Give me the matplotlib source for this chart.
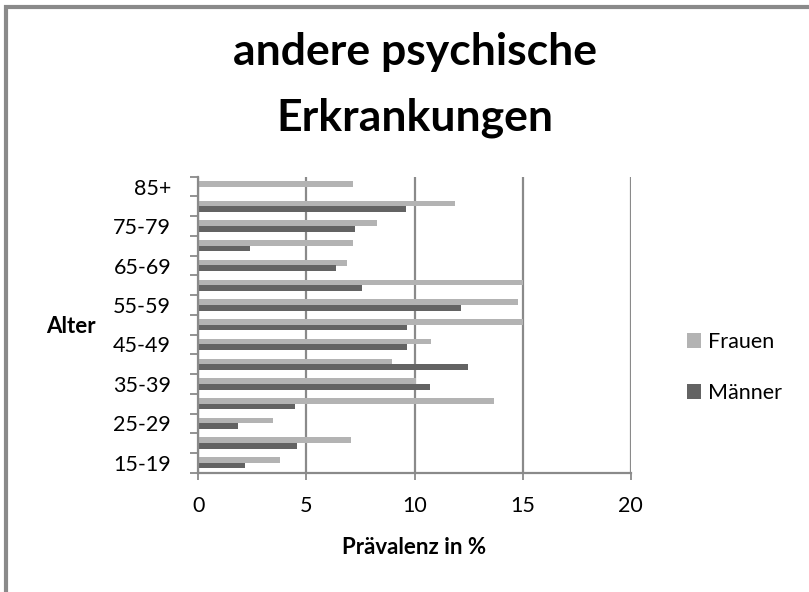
import numpy as np
import matplotlib.pyplot as plt
from matplotlib.patches import Rectangle

age_groups = ['15-19', '20-24', '25-29', '30-34', '35-39', '40-44', '45-49', '50-54',
              '55-59', '60-64', '65-69', '70-74', '75-79', '80-84', '85+']
frauen = [3.79, 7.05, 3.47, 13.68, 10.05, 8.95, 10.76, 15.0, 14.77, 15.0, 6.86, 7.17, 8.28, 11.87, 7.14]
maenner = [2.16, 4.55, 1.82, 4.47, 10.72, 12.49, 9.64, 9.64, 12.15, 7.56, 6.36, 2.39, 7.25, 9.59, 0.0]
x_ticks = [0, 5, 10, 15, 20]

c_frauen = '#b3b3b3'
c_maenner = '#636363'
c_axis = '#8a8a8a'

plt.rcParams['font.family'] = ['Lato', 'DejaVu Sans']

fig = plt.figure(figsize=(8.09, 5.92), dpi=100)
ax = fig.add_axes([198.3/809, 1-472.7/592, 432.4/809, 296/592])

y = np.arange(len(age_groups))
h = 1/3.5
ax.barh(y + h/2, frauen, height=h, color=c_frauen, label='Frauen', zorder=2)
ax.barh(y - h/2, maenner, height=h, color=c_maenner, label='Männer', zorder=2)

ax.set_xlim(0, 20)
ax.set_ylim(-0.5, len(age_groups) - 0.5)
ax.set_xticks(x_ticks)
ax.set_xticklabels([str(t) for t in x_ticks])
ax.set_yticks(y)
ax.set_yticklabels([lab if i % 2 == 0 else '' for i, lab in enumerate(age_groups)])
ax.set_yticks(np.arange(len(age_groups) + 1) - 0.5, minor=True)

ax.tick_params(axis='y', which='major', length=0, pad=19.5, labelsize=15.5)
ax.tick_params(axis='y', which='minor', length=5.8, width=1.3, color=c_axis)
ax.tick_params(axis='x', which='major', length=5, width=1.3, color=c_axis, pad=11.5, labelsize=15.5)

ax.grid(axis='x', color=c_axis, linewidth=1.6, zorder=1)
ax.set_axisbelow(True)
for side in ['top', 'right']:
    ax.spines[side].set_visible(False)
for side in ['left', 'bottom']:
    ax.spines[side].set_color(c_axis)
    ax.spines[side].set_linewidth(1.6)

# baseline = letzte Zeile
fig.text(414.5/809, 1-130/592, 'andere psychische\nErkrankungen', ha='center', va='baseline',
         fontsize=32, fontweight='bold', linespacing=1.75)
fig.text(71/809, 1-333/592, 'Alter', ha='center', va='baseline', fontsize=16, fontweight='bold')
fig.text(414.5/809, 1-554/592, 'Prävalenz in %', ha='center', va='baseline', fontsize=16, fontweight='bold')

fig.legend(loc='center left', bbox_to_anchor=(687/809, 1-367.5/592), frameon=False,
           fontsize=15.5, handlelength=0.67, handleheight=0.67, handletextpad=0.3,
           labelspacing=1.42, borderpad=0, borderaxespad=0)

# grauer Rahmen links/oben
fig.patches.append(Rectangle((6/809, -0.1), 1.2, 1.1 - 7/592, transform=fig.transFigure,
                             fill=False, edgecolor=c_axis, linewidth=3))

fig.savefig('out.png', dpi=100)
